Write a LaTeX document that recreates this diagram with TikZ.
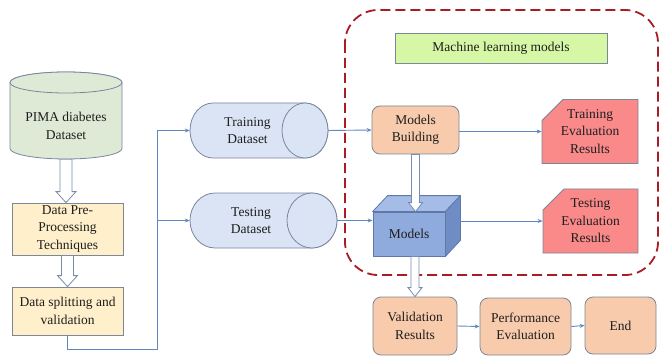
\documentclass[tikz,border=0pt]{standalone}
\usepackage{fontspec}
\setmainfont{Liberation Serif}
\usetikzlibrary{arrows.meta,shapes.geometric,shapes.misc,calc}

\definecolor{linkblue}{RGB}{98,134,190}
\definecolor{edgegray}{RGB}{125,135,150}
\definecolor{pimafill}{RGB}{222,234,214}
\definecolor{cylfill}{RGB}{218,228,244}
\definecolor{cylline}{RGB}{120,134,160}
\definecolor{prepfill}{RGB}{255,240,203}
\definecolor{mlgreen}{RGB}{214,247,165}
\definecolor{peach}{RGB}{247,203,172}
\definecolor{salmon}{RGB}{250,138,138}
\definecolor{cubefront}{RGB}{143,170,220}
\definecolor{cubetop}{RGB}{165,188,230}
\definecolor{cubeside}{RGB}{112,140,196}
\definecolor{cubeline}{RGB}{95,120,170}
\definecolor{frame}{RGB}{168,28,38}
\definecolor{hollowline}{RGB}{120,140,175}
\definecolor{ink}{RGB}{30,30,30}

\tikzset{
  conn/.style={draw=linkblue, line width=0.9pt, -{Stealth[length=5pt,width=4pt]}},
  txt/.style={align=center, inner sep=0pt, text=ink},
  procbox/.style={txt, rectangle, draw=edgegray, fill=prepfill, line width=0.8pt},
  roundbox/.style={txt, rectangle, rounded corners=8pt, draw=edgegray, fill=peach, line width=0.8pt},
  resultbox/.style={txt, chamfered rectangle, chamfered rectangle corners=north west,
    chamfered rectangle xsep=11pt, chamfered rectangle ysep=10pt,
    draw=edgegray, fill=salmon, line width=0.8pt},
  hollow/.style={draw=hollowline, fill=white, line width=0.8pt},
  cylbody/.style={draw=cylline, fill=cylfill, line width=0.8pt},
}

% block arrow from the y of #2 down to the y of #3, centred on the x of #1;
% #4 half shaft width, #5 half head width, #6 head length
\newcommand{\blockdown}[6]{%
  \draw[hollow] let \p1=(#1), \p2=(#2), \p3=(#3) in
    (\x1-#4,\y2) -- (\x1-#4,\y3+#6) -- (\x1-#5,\y3+#6) -- (\x1,\y3)
    -- (\x1+#5,\y3+#6) -- (\x1+#4,\y3+#6) -- (\x1+#4,\y2) -- cycle;}

\begin{document}
\begin{tikzpicture}[x=1pt, y=-1pt, font=\fontsize{13.5}{17.5}\selectfont]
\useasboundingbox (0,0) rectangle (660,358);

% dashed frame around the learning stage
\draw[frame, line width=1.8pt, dash pattern=on 10pt off 5pt, rounded corners=33pt]
  (345,10) rectangle (658,275);

% PIMA dataset cylinder (vertical)
\path[draw=cylline, fill=pimafill, line width=0.8pt]
  (10,82.5) -- (10,148.5) arc[start angle=180, end angle=360, x radius=56pt, y radius=10.5pt]
  -- (122,82.5) arc[start angle=0, end angle=180, x radius=56pt, y radius=10.5pt] -- cycle;
\draw[draw=cylline, fill=pimafill, line width=0.8pt] (66,82.5) ellipse[x radius=56pt, y radius=10.5pt];
\node[txt, minimum width=112, minimum height=66] (pima) at (66,126) {PIMA diabetes\\Dataset};

% preprocessing and splitting boxes
\node[procbox, minimum width=111, minimum height=52] (pre) at (67.5,229) {Data Pre-\\Processing\\Techniques};
\node[procbox, minimum width=111, minimum height=48] (split) at (67.5,311) {Data splitting and\\validation};

% training dataset cylinder (horizontal)
\path[cylbody] (213,103) arc[start angle=90, end angle=270, x radius=23pt, y radius=27.5pt]
  -- (305,158) arc[start angle=-90, end angle=90, x radius=23pt, y radius=27.5pt] -- cycle;
\node[cylbody, ellipse, inner sep=0pt, minimum width=46, minimum height=55] (trainend) at (305,130.5) {};
\node[txt, minimum width=115, minimum height=55] (train) at (247.5,130.5) {Training\\Dataset};

% testing dataset cylinder (horizontal)
\path[cylbody] (215,193) arc[start angle=90, end angle=270, x radius=25pt, y radius=27.5pt]
  -- (312,248) arc[start angle=-90, end angle=90, x radius=25pt, y radius=27.5pt] -- cycle;
\node[cylbody, ellipse, inner sep=0pt, minimum width=50, minimum height=55] (testend) at (312,220.5) {};
\node[txt, minimum width=122, minimum height=55] (test) at (251,220.5) {Testing\\Dataset};

% learning stage
\node[txt, draw=edgegray, fill=mlgreen, line width=0.8pt, minimum width=212, minimum height=30]
  (ml) at (501,48) {Machine learning models};
\node[roundbox, minimum width=87, minimum height=48] (mb) at (415.5,130) {Models\\Building};
\node[resultbox, minimum width=96, minimum height=63] (trres) at (590,131.5) {Training\\Evaluation\\Results};
\node[resultbox, minimum width=95, minimum height=62] (teres) at (590.5,221) {Testing\\Evaluation\\Results};

% models cube
\node[txt, draw=cubeline, fill=cubefront, line width=0.8pt, minimum width=72, minimum height=44]
  (models) at (409,234) {Models};
\draw[draw=cubeline, fill=cubetop, line width=0.8pt, line join=round]
  (models.north west) -- ([shift={(15pt,16pt)}]models.north west)
  -- ([shift={(15pt,16pt)}]models.north east) -- (models.north east) -- cycle;
\draw[draw=cubeline, fill=cubeside, line width=0.8pt, line join=round]
  (models.north east) -- ([shift={(15pt,16pt)}]models.north east)
  -- ([shift={(15pt,16pt)}]models.south east) -- (models.south east) -- cycle;
\coordinate (modelsR) at ([xshift=15pt]models.east);

% final stage
\node[roundbox, minimum width=84, minimum height=58] (val) at (415,326) {Validation\\Results};
\node[roundbox, minimum width=91, minimum height=57] (perf) at (525.5,326.5) {Performance\\Evaluation};
\node[roundbox, minimum width=71, minimum height=57] (fin) at (620.5,325.5) {End};

% block arrows
\blockdown{pima.south}{pima.south}{pre.north}{6pt}{10pt}{11pt}
\blockdown{pre.south}{pre.south}{split.north}{6pt}{10pt}{11pt}
\blockdown{mb.south}{mb.south}{models.north}{4pt}{7pt}{9pt}
\blockdown{val.north}{models.south}{val.north}{4pt}{7pt}{9pt}

% data flow connectors
\coordinate (bus) at (157,349);
\draw[conn] (split.south) |- (bus) |- (train.west);
\draw[conn] (bus |- test.west) -- (test.west);
\draw[conn] (trainend.east) -- (mb.west);
\draw[conn] (testend.east) -- (testend.east -| models.west);
\draw[conn] (mb.east |- trres.west) -- (trres.west);
\draw[conn] (modelsR |- teres.west) -- (teres.west);
\draw[conn] (val.east) -- (perf.west);
\draw[conn] (perf.east) -- (fin.west);
\end{tikzpicture}
\end{document}
